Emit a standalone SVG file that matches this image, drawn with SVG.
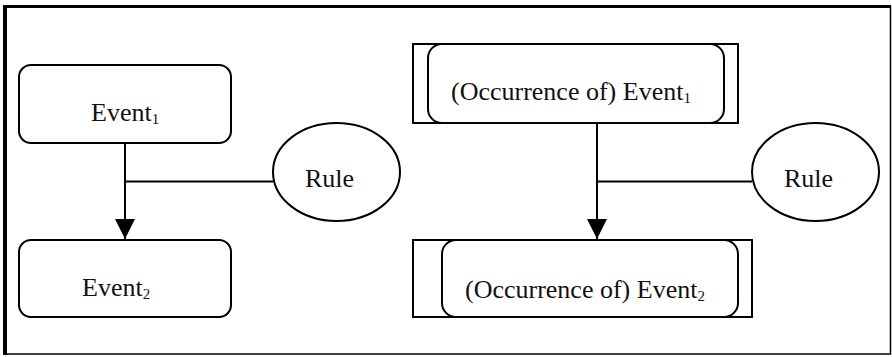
<svg xmlns="http://www.w3.org/2000/svg" width="892" height="357" viewBox="0 0 892 357">
  <style>
    .box { fill: #fff; stroke: #000; stroke-width: 2; }
    .frame { fill: none; stroke: #000; stroke-width: 1.5; }
    .lbl { font-family: "Liberation Serif", "Times New Roman", serif; font-size: 26px; fill: #111; }
    .sub { font-size: 15px; }
    .wire { fill: none; stroke: #000; stroke-width: 2; }
  </style>
  <defs>
    <marker id="arrow" viewBox="0 0 20 20" refX="20" refY="10" markerWidth="20" markerHeight="20" markerUnits="userSpaceOnUse" orient="auto">
      <path d="M0,0 L20,10 L0,20 Z" fill="#000"/>
    </marker>
  </defs>

  <rect width="892" height="357" fill="#fff"/>

  <!-- outer frame, heavier on top and left -->
  <g id="frame">
    <rect class="frame" x="5" y="6.5" width="885.5" height="347.5"/>
    <line x1="3" y1="6.5" x2="891" y2="6.5" stroke="#000" stroke-width="3"/>
    <line x1="5" y1="5" x2="5" y2="355" stroke="#000" stroke-width="4"/>
  </g>

  <!-- connectors -->
  <g id="connectors">
    <line class="wire" x1="125" y1="143" x2="125" y2="239" marker-end="url(#arrow)"/>
    <line class="wire" x1="125" y1="181.5" x2="273" y2="181.5"/>
    <line class="wire" x1="597" y1="123" x2="597" y2="239" marker-end="url(#arrow)"/>
    <line class="wire" x1="597" y1="181.5" x2="752" y2="181.5"/>
  </g>

  <!-- left side -->
  <g id="event1">
    <rect class="box" x="19" y="65" width="212" height="78" rx="12"/>
    <text class="lbl" x="91" y="121">Event<tspan class="sub" dy="3">1</tspan></text>
  </g>
  <g id="event2">
    <rect class="box" x="19" y="240" width="212" height="77" rx="12"/>
    <text class="lbl" x="82" y="296">Event<tspan class="sub" dy="3">2</tspan></text>
  </g>
  <g id="rule1">
    <ellipse class="box" cx="336.5" cy="172" rx="63.5" ry="49"/>
    <text class="lbl" x="305" y="187">Rule</text>
  </g>

  <!-- right side -->
  <g id="occurrence1">
    <rect class="box" x="413" y="44" width="325" height="79"/>
    <rect class="box" x="428" y="44" width="296" height="79" rx="14"/>
    <text class="lbl" x="451" y="100">(Occurrence of) Event<tspan class="sub" dy="3">1</tspan></text>
  </g>
  <g id="occurrence2">
    <rect class="box" x="413" y="240" width="339" height="77"/>
    <rect class="box" x="442" y="240" width="296" height="77" rx="14"/>
    <text class="lbl" x="465" y="298">(Occurrence of) Event<tspan class="sub" dy="3">2</tspan></text>
  </g>
  <g id="rule2">
    <ellipse class="box" cx="815.5" cy="172" rx="63.5" ry="49"/>
    <text class="lbl" x="784" y="187">Rule</text>
  </g>
</svg>
